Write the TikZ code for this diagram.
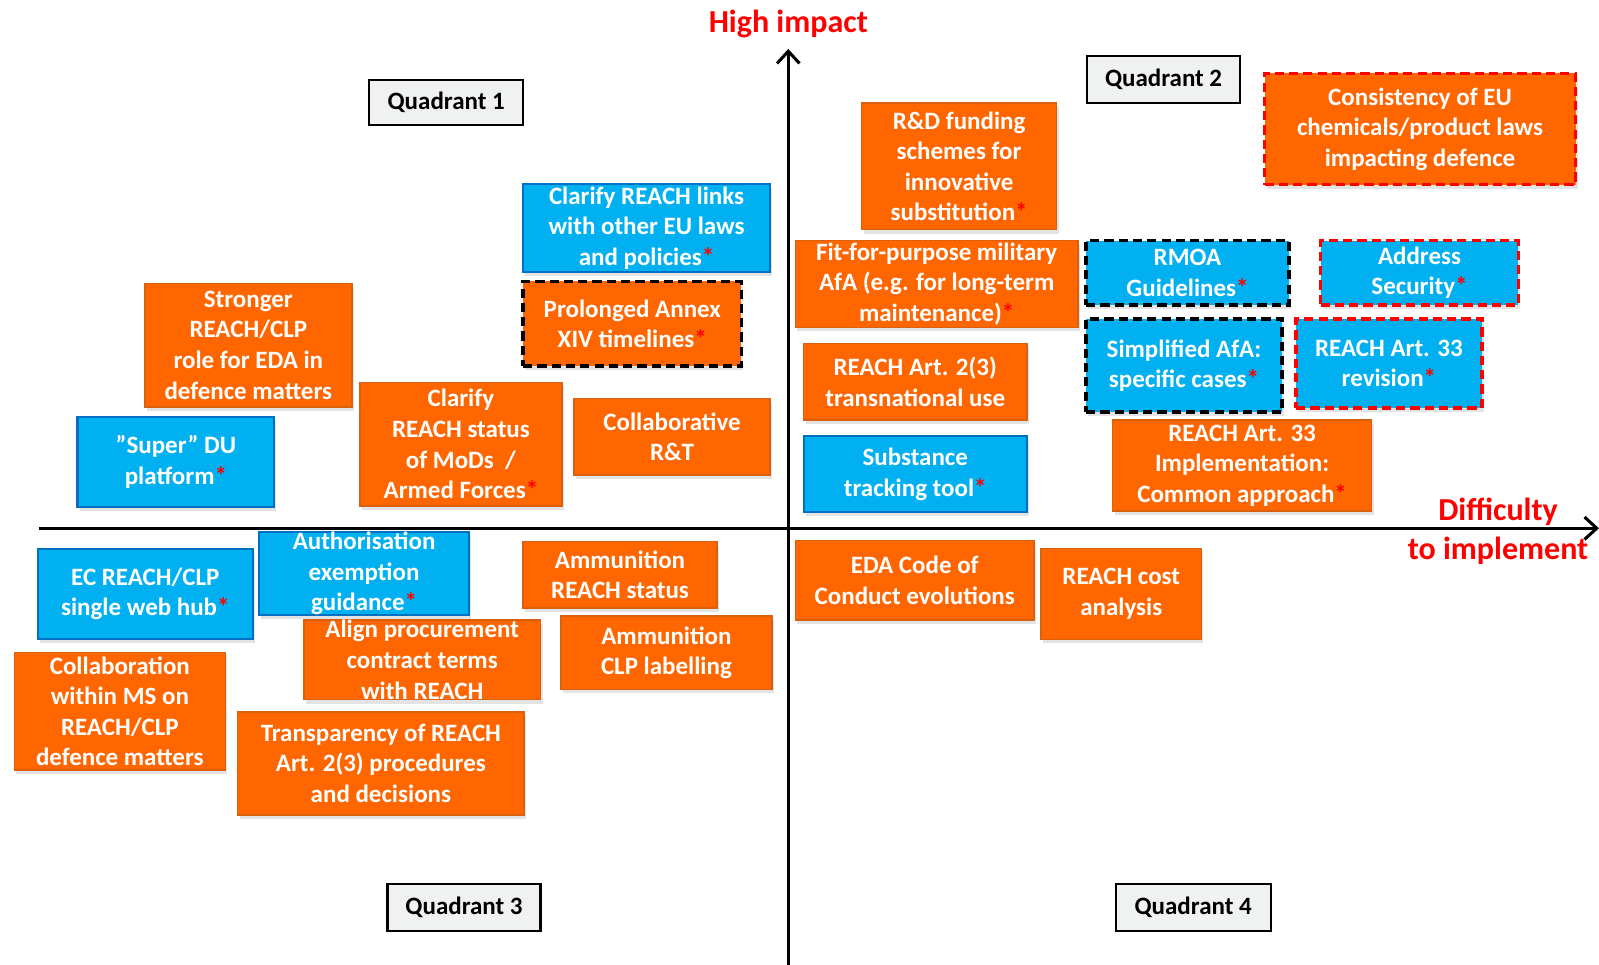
\documentclass[tikz,border=0pt]{standalone}
\usepackage{fontspec}
\setmainfont{Carlito}
\usepackage{xcolor}
\usepackage{tikz}
\usetikzlibrary{arrows.meta, shadows}
\definecolor{borange}{HTML}{FF6600}
\definecolor{borangeline}{HTML}{D9600C}
\definecolor{bblue}{HTML}{00B0F0}
\definecolor{bblueline}{HTML}{0070C0}
\definecolor{bred}{HTML}{FF0000}
\definecolor{bgray}{HTML}{F0F2F2}
\def\pxu{0.5pt}
\def\rstar{\textcolor{bred}{*}}
\tikzstyle{rectblock} = [rectangle, draw, align=center, inner sep=0pt, font=\fontsize{12.25}{15}\selectfont\bfseries]
\tikzstyle{itembox} = [rectblock, text=white, line width=0.75pt, drop shadow={shadow xshift=1pt, shadow yshift=-2pt, opacity=0.22}]
\tikzstyle{orangebox} = [itembox, fill=borange, draw=borangeline]
\tikzstyle{bluebox} = [itembox, fill=bblue, draw=bblueline, line width=1pt]
\tikzstyle{blackdash} = [draw=black, line width=1.75pt, dash pattern=on 4.5pt off 2.5pt]
\tikzstyle{reddash} = [draw=bred, line width=1.75pt, dash pattern=on 4.5pt off 2.5pt]
\tikzstyle{quadbox} = [rectblock, fill=bgray, line width=1pt, text=black]
\tikzstyle{axis} = [draw, line width=1.5pt, -{Straight Barb[length=6pt, width=11pt, line width=1.5pt]}]
\tikzstyle{axislabel} = [text=bred, align=center, font=\fontsize{15.7}{19}\selectfont\bfseries]

\begin{document}
\begin{tikzpicture}[x=0.5pt, y=-0.5pt]
    \useasboundingbox (0, 0) rectangle (1568, 946);
    % axes
    \coordinate (vbot) at (773, 946);
    \coordinate (vtop) at (773, 48);
    \coordinate (hleft) at (38, 518);
    \coordinate (hright) at (1568, 518);
    \path[axis] (vbot) to (vtop);
    \path[axis] (hleft) to (hright);
    \node[axislabel] at (773, 24) (himpact) {High impact};
    \node[axislabel] at (1469, 521) (difficulty) {Difficulty\\to implement};

    % quadrant labels
    \node[quadbox, minimum width=151*\pxu, minimum height=45*\pxu] at (437.5, 100.5) (quad1) {Quadrant 1};
    \node[quadbox, minimum width=150*\pxu, minimum height=46*\pxu] at (1141, 78) (quad2) {Quadrant 2};
    \node[quadbox, minimum width=150*\pxu, minimum height=46*\pxu] at (455, 890) (quad3) {Quadrant 3};
    \node[quadbox, minimum width=152*\pxu, minimum height=46*\pxu] at (1170, 890) (quad4) {Quadrant 4};

    % quadrant 1
    \node[bluebox, minimum width=242*\pxu, minimum height=87*\pxu] at (634, 223.5) (links) {Clarify REACH links\\with other EU laws\\and policies\rstar};
    \node[orangebox, blackdash, minimum width=214*\pxu, minimum height=83*\pxu] at (620, 317.5) (annex) {Prolonged Annex\\XIV timelines\rstar};
    \node[orangebox, minimum width=203*\pxu, minimum height=121*\pxu] at (243.5, 338.5) (stronger) {Stronger\\REACH/CLP\\role for EDA in\\defence matters};
    \node[orangebox, minimum width=198*\pxu, minimum height=121*\pxu] at (452, 435.5) (mods) {Clarify\\REACH status\\of MoDs~ /\\Armed Forces\rstar};
    \node[orangebox, minimum width=192*\pxu, minimum height=75*\pxu] at (659, 428.5) (collabrt) {Collaborative\\R\&T};
    \node[bluebox, minimum width=193*\pxu, minimum height=88*\pxu] at (172.5, 453) (superdu) {”Super” DU\\platform\rstar};

    % quadrant 2
    \node[orangebox, minimum width=191*\pxu, minimum height=124*\pxu] at (940.5, 163) (rdfund) {R\&D funding\\schemes for\\innovative\\substitution\rstar};
    \node[orangebox, reddash, minimum width=305*\pxu, minimum height=109*\pxu] at (1392.5, 126.5) (consist) {Consistency of EU\\chemicals/product laws\\impacting defence};
    \node[orangebox, minimum width=277*\pxu, minimum height=85*\pxu] at (918.5, 278.5) (fitpurp) {Fit-for-purpose military\\AfA (e.g. for long-term\\maintenance)\rstar};
    \node[bluebox, blackdash, minimum width=199*\pxu, minimum height=63*\pxu] at (1164.5, 267.5) (rmoa) {RMOA\\Guidelines\rstar};
    \node[bluebox, reddash, minimum width=194*\pxu, minimum height=63*\pxu] at (1392, 267.5) (security) {Address\\Security\rstar};
    \node[orangebox, minimum width=219*\pxu, minimum height=75*\pxu] at (897.5, 374.5) (art23) {REACH Art. 2(3)\\transnational use};
    \node[bluebox, blackdash, minimum width=192*\pxu, minimum height=91*\pxu] at (1161, 358.5) (simplafa) {Simplified AfA:\\specific cases\rstar};
    \node[bluebox, reddash, minimum width=182*\pxu, minimum height=87*\pxu] at (1362, 356.5) (art33rev) {REACH Art. 33\\revision\rstar};
    \node[bluebox, minimum width=219*\pxu, minimum height=74*\pxu] at (897.5, 465) (tracking) {Substance\\tracking tool\rstar};
    \node[orangebox, minimum width=254*\pxu, minimum height=89*\pxu] at (1218, 456.5) (art33impl) {REACH Art. 33\\Implementation:\\Common approach\rstar};

    % quadrant 3
    \node[bluebox, minimum width=211*\pxu, minimum height=89*\pxu] at (142.5, 582.5) (webhub) {EC REACH/CLP\\single web hub\rstar};
    \node[bluebox, minimum width=206*\pxu, minimum height=81*\pxu] at (357, 562.5) (authex) {Authorisation\\exemption\\guidance\rstar};
    \node[orangebox, minimum width=190*\pxu, minimum height=65*\pxu] at (608, 563.5) (ammreach) {Ammunition\\REACH status};
    \node[orangebox, minimum width=232*\pxu, minimum height=78*\pxu] at (414, 647) (procure) {Align procurement\\contract terms\\with REACH};
    \node[orangebox, minimum width=207*\pxu, minimum height=72*\pxu] at (653.5, 640) (ammclp) {Ammunition\\CLP labelling};
    \node[orangebox, minimum width=207*\pxu, minimum height=115*\pxu] at (117.5, 697.5) (collabms) {Collaboration\\within MS on\\REACH/CLP\\defence matters};
    \node[orangebox, minimum width=281*\pxu, minimum height=101*\pxu] at (373.5, 748.5) (transp) {Transparency of REACH\\Art. 2(3) procedures\\and decisions};

    % quadrant 4
    \node[orangebox, minimum width=234*\pxu, minimum height=78*\pxu] at (897, 569) (edacode) {EDA Code of\\Conduct evolutions};
    \node[orangebox, minimum width=157*\pxu, minimum height=89*\pxu] at (1099.5, 582.5) (cost) {REACH cost\\analysis};
\end{tikzpicture}
\end{document}
